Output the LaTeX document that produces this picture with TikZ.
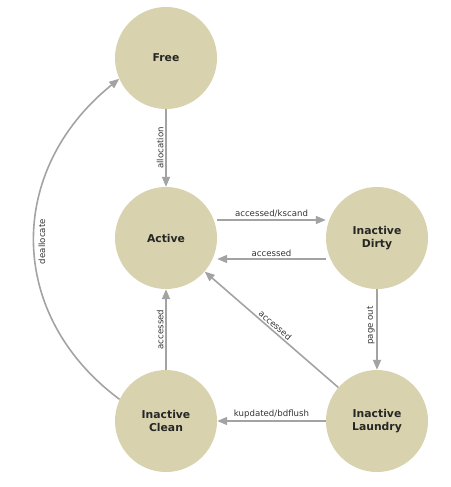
\documentclass[tikz,border=0pt]{standalone}
\usepackage{fontspec}
\setmainfont{DejaVu Sans}
\usetikzlibrary{arrows.meta}
\definecolor{statefill}{HTML}{D8D3AE}
\definecolor{edgegray}{HTML}{A3A3A3}
\begin{document}
\begin{tikzpicture}[x=1pt,y=1pt,
  state/.style={circle,fill=statefill,draw=none,minimum size=102pt,inner sep=0pt,
    font=\fontsize{10.8}{13}\selectfont\bfseries,align=center,text=black!85},
  edge/.style={draw=edgegray,line width=1.6pt,-{Triangle[length=10pt,width=8pt]}},
  lbl/.style={font=\fontsize{8.6}{9}\selectfont,text=black!80,inner sep=1.6pt}]
\useasboundingbox (0,-487) rectangle (450,0);
\node[state] (free) at (166,-58) {Free};
\node[state] (active) at (166,-238) {Active};
\node[state] (dirty) at (377,-238) {Inactive\\Dirty};
\node[state] (clean) at (166,-421) {Inactive\\Clean};
\node[state] (laundry) at (377,-421) {Inactive\\Laundry};

\draw[edge] (free) -- node[lbl,rotate=90,anchor=south] {allocation} (active);
\draw[edge] (active.east |- 0,-220) -- node[lbl,above] {accessed/kscand} (dirty.west |- 0,-220);
\draw[edge] (dirty.west |- 0,-259) -- node[lbl,above] {accessed} (active.east |- 0,-259);
\draw[edge] (dirty) -- node[lbl,rotate=90,anchor=south,pos=0.45] {page out} (laundry);
\draw[edge] (laundry) -- node[lbl,sloped,above,pos=0.5] {accessed} (active);
\draw[edge] (laundry) -- node[lbl,above] {kupdated/bdflush} (clean);
\draw[edge] (clean) -- node[lbl,rotate=90,anchor=south] {accessed} (active);
\draw[edge] (clean.155) .. controls (6,-315) and (6,-170) .. node[lbl,rotate=90,anchor=north,inner sep=3.5pt] {deallocate} (free.204);
\end{tikzpicture}
\end{document}
